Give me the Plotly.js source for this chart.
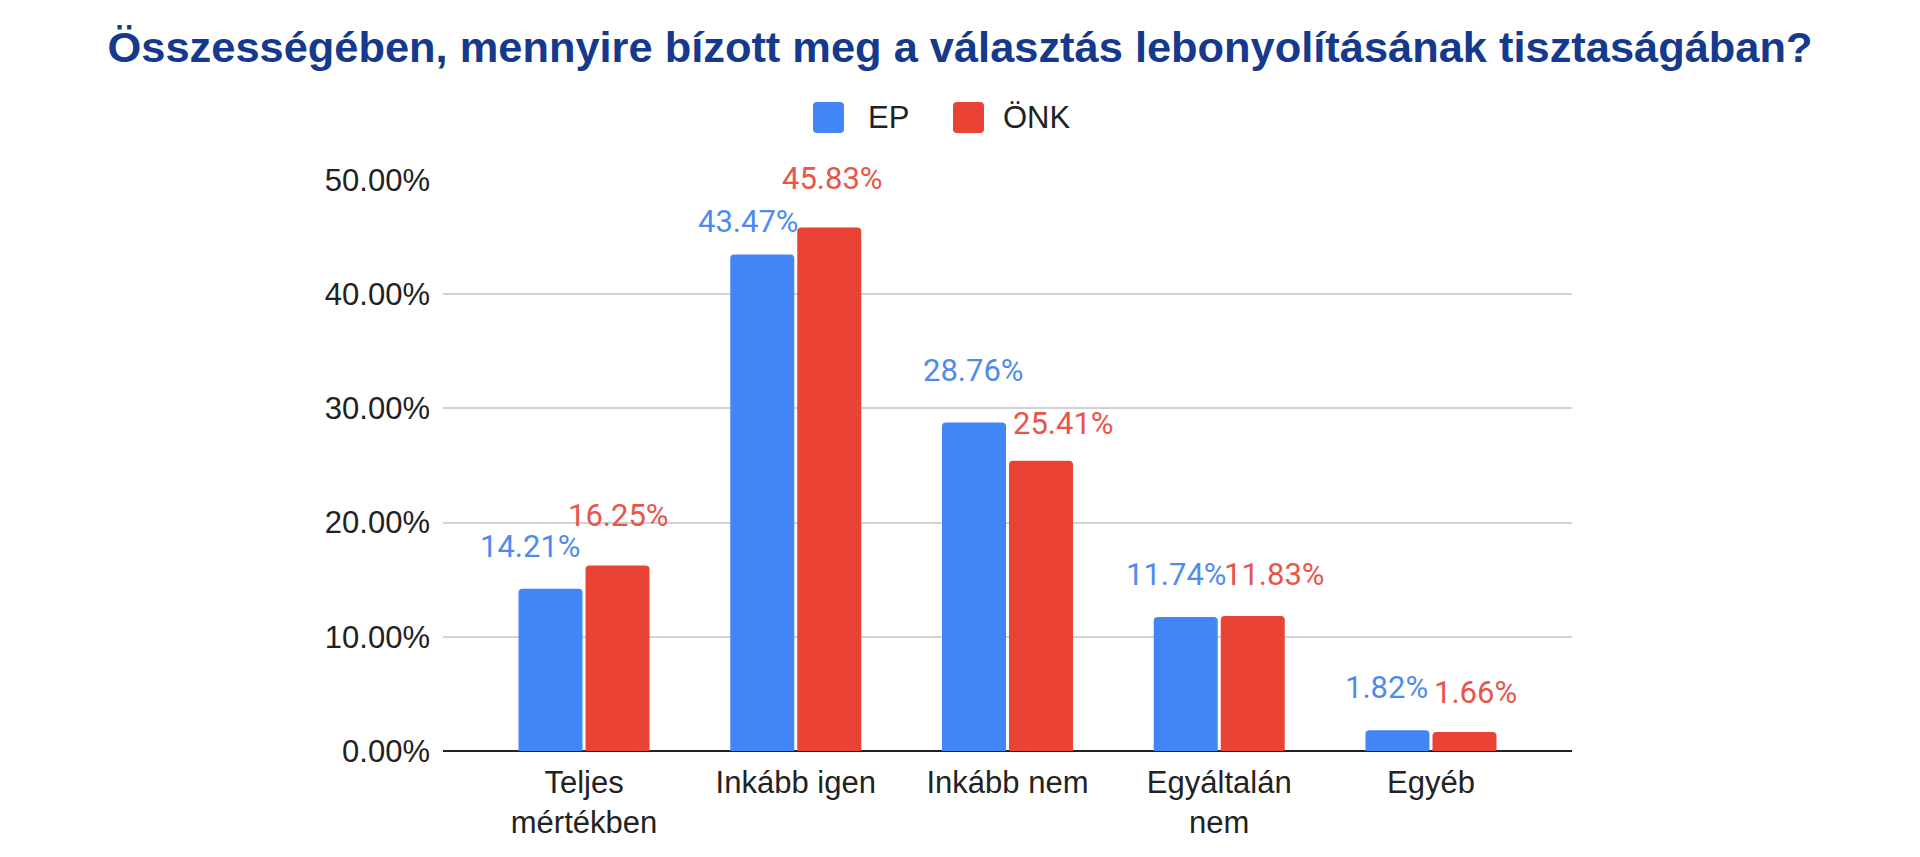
<!DOCTYPE html>
<html lang="hu">
<head>
<meta charset="utf-8">
<script src="https://cdn.plot.ly/plotly-3.0.1.min.js"></script>
<style>
  html, body { margin: 0; padding: 0; background: #fff; }
  #chart { width: 1920px; height: 857px; }
</style>
</head>
<body>
<div id="chart"></div>
<script>
// Survey answers: trust in the fairness of the election (EP vs. local elections)
const categories = ["Teljes<br>mértékben", "Inkább igen", "Inkább nem", "Egyáltalán<br>nem", "Egyéb"];
const epValues = [14.21, 43.47, 28.76, 11.74, 1.82];
const onkValues = [16.25, 45.83, 25.41, 11.83, 1.66];
const seriesNames = ["EP", "ÖNK"];
const yTicks = [0, 10, 20, 30, 40, 50];

// Pixel nudges for the value labels (relative to each bar's centre / top)
const epLabelDx = [-20, -13, 0, -9, -10];
const epLabelDy = [42, 33, 52, 42, 43];
const onkLabelDx = [0, 3, 22, 21, 11];
const onkLabelDy = [50, 49, 37, 41, 40];

const W = 1920, H = 857;
const M = { l: 443, r: 348, t: 180, b: 106 };
const PW = W - M.l - M.r, PH = H - M.t - M.b;
const BLUE = "#4285F4", RED = "#EA4335";
const BLUE_TXT = "#4f8bef", RED_TXT = "#e8554a";
const SANS = "Arial, 'Liberation Sans', sans-serif";
const LABEL_FONT = "Roboto, Arial, sans-serif";
const BAR_HALF = 34; // half the spacing between the two bars of a group, px

const toPaperX = px => (px - M.l) / PW;
const toPaperY = py => (H - M.b - py) / PH;

// Rounded square as an SVG path in paper coordinates
function roundedSwatch(x0, y0, size, r) {
  const X = v => toPaperX(v), Y = v => toPaperY(v);
  const x1 = x0 + size, y1 = y0 + size;
  return "M" + X(x0 + r) + "," + Y(y0) +
    " L" + X(x1 - r) + "," + Y(y0) + " Q" + X(x1) + "," + Y(y0) + " " + X(x1) + "," + Y(y0 + r) +
    " L" + X(x1) + "," + Y(y1 - r) + " Q" + X(x1) + "," + Y(y1) + " " + X(x1 - r) + "," + Y(y1) +
    " L" + X(x0 + r) + "," + Y(y1) + " Q" + X(x0) + "," + Y(y1) + " " + X(x0) + "," + Y(y1 - r) +
    " L" + X(x0) + "," + Y(y0 + r) + " Q" + X(x0) + "," + Y(y0) + " " + X(x0 + r) + "," + Y(y0) + " Z";
}

const traces = [
  { type: "bar", name: seriesNames[0], x: categories, y: epValues,
    marker: { color: BLUE, cornerradius: 4 }, showlegend: false, hoverinfo: "x+y" },
  { type: "bar", name: seriesNames[1], x: categories, y: onkValues,
    marker: { color: RED, cornerradius: 4 }, showlegend: false, hoverinfo: "x+y" }
];

const fmt = v => v.toFixed(2) + "%";
const annotations = [];
categories.forEach((c, i) => {
  annotations.push({
    x: c, y: epValues[i], xref: "x", yref: "y", text: fmt(epValues[i]),
    showarrow: false, xanchor: "center", yanchor: "middle",
    xshift: -BAR_HALF + epLabelDx[i], yshift: epLabelDy[i],
    font: { family: LABEL_FONT, size: 31, color: BLUE_TXT }
  });
  annotations.push({
    x: c, y: onkValues[i], xref: "x", yref: "y", text: fmt(onkValues[i]),
    showarrow: false, xanchor: "center", yanchor: "middle",
    xshift: BAR_HALF + onkLabelDx[i], yshift: onkLabelDy[i],
    font: { family: LABEL_FONT, size: 31, color: RED_TXT }
  });
});

// Legend drawn by hand so the swatches can match the text size
const legendItems = [
  { name: seriesNames[0], color: BLUE, sx: 813, tx: 866 },
  { name: seriesNames[1], color: RED, sx: 953, tx: 1001 }
];
const shapes = [];
legendItems.forEach(it => {
  shapes.push({
    type: "path", xref: "paper", yref: "paper",
    path: roundedSwatch(it.sx, 102, 31, 4),
    fillcolor: it.color, line: { width: 0 }, layer: "above"
  });
  annotations.push({
    xref: "paper", yref: "paper", x: toPaperX(it.tx), y: toPaperY(117),
    xanchor: "left", yanchor: "middle", showarrow: false, text: it.name,
    font: { family: SANS, size: 31, color: "#222222" }
  });
});

const layout = {
  width: W, height: H,
  margin: M,
  paper_bgcolor: "#ffffff", plot_bgcolor: "#ffffff",
  title: {
    text: "Összességében, mennyire bízott meg a választás lebonyolításának tisztaságában?",
    x: 0.5, xref: "container", xanchor: "center",
    y: 1 - 47 / H, yref: "container", yanchor: "middle",
    font: { family: SANS, size: 43.4, weight: "bold", color: "#15398c" }
  },
  barmode: "group",
  bargap: 0.367,
  bargroupgap: 0.045,
  showlegend: false,
  xaxis: {
    type: "category",
    range: [-0.666, 4.666],
    showgrid: false, showline: false, zeroline: false, ticks: "",
    ticklabelstandoff: 10,
    tickfont: { family: SANS, size: 31, color: "#222222" },
    fixedrange: true
  },
  yaxis: {
    range: [0, 50],
    tickvals: yTicks,
    ticktext: yTicks.map(v => v.toFixed(2) + "%"),
    showgrid: true, gridcolor: "#d3d3d3", gridwidth: 2,
    zeroline: true, zerolinecolor: "#222222", zerolinewidth: 2,
    showline: false, ticks: "",
    ticklabelstandoff: 12,
    tickfont: { family: SANS, size: 31, color: "#222222" },
    fixedrange: true
  },
  annotations: annotations,
  shapes: shapes
};

Plotly.newPlot("chart", traces, layout, { displayModeBar: false, staticPlot: true });
</script>
</body>
</html>
